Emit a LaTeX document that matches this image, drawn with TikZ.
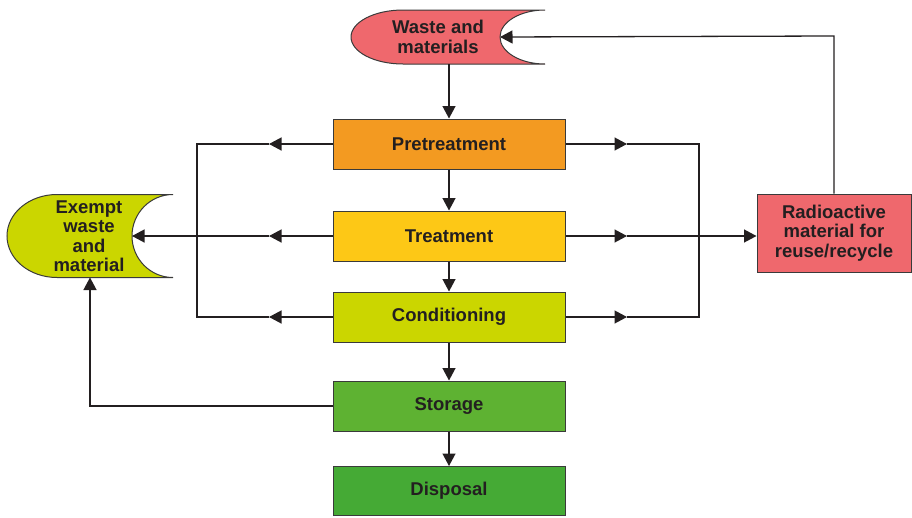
\documentclass[tikz,border=0pt]{standalone}
\usepackage{fontspec}
\setmainfont{Liberation Sans}
\usetikzlibrary{arrows.meta}
\definecolor{ink}{HTML}{231F20}
\definecolor{edge}{HTML}{3A3A3A}
\definecolor{salmon}{HTML}{EF686D}
\definecolor{orangeb}{HTML}{F39A21}
\definecolor{yellowb}{HTML}{FDC816}
\definecolor{limeb}{HTML}{CBD600}
\definecolor{storeb}{HTML}{5EB232}
\definecolor{dispb}{HTML}{45AA35}
\tikzset{
  lbl/.style={font=\bfseries\fontsize{18.5}{19.5}\selectfont, text=ink, align=center},
  stepbox/.style={lbl, draw=edge, line width=1pt, minimum width=232pt, minimum height=50pt, inner sep=0pt},
  shapeline/.style={draw=edge, line width=1pt},
  conn/.style={draw=ink, line width=1.3pt},
  arr/.style={conn, -{Triangle[length=12.5pt,width=13pt]}},
}
\begin{document}
\begin{tikzpicture}[x=1pt,y=1pt]
\useasboundingbox (0,0) rectangle (912,-517);
% waste and materials shape
\path[shapeline, fill=salmon] (545,-10) arc[start angle=90, end angle=270, x radius=45, y radius=27]
  -- (403,-64) arc[start angle=270, end angle=90, x radius=52, y radius=27] -- cycle;
\node[lbl] (waste) at (438,-37) {Waste and\\materials};
\coordinate (wasteIn) at (500,-37);
\coordinate (wasteBot) at (449,-64);
% exempt shape
\path[shapeline, fill=limeb] (173,-194.5) arc[start angle=90, end angle=270, x radius=41, y radius=41.5]
  -- (57,-277.5) arc[start angle=270, end angle=90, x radius=50, y radius=41.5] -- cycle;
\node[lbl] (exempt) at (89,-236) {Exempt\\waste\\and\\material};
\coordinate (exemptIn) at (132,-236);
\coordinate (exemptBot) at (90,-277.5);
% main boxes
\node[stepbox, fill=orangeb] (pre) at (449,-144) {Pretreatment};
\node[stepbox, fill=yellowb] (treat) at (449,-236) {Treatment};
\node[stepbox, fill=limeb] (cond) at (449,-317) {Conditioning};
\node[stepbox, fill=storeb] (stor) at (449,-406) {Storage};
\node[stepbox, fill=dispb, minimum height=49pt] (disp) at (449,-491) {Disposal};
\node[lbl, draw=edge, line width=1pt, fill=salmon, minimum width=154pt, minimum height=78pt, inner sep=0pt] (rad) at (834,-233) {Radioactive\\material for\\reuse/recycle};
% vertical flow
\draw[arr] (wasteBot) -- (pre.north);
\draw[arr] (pre.south) -- (treat.north);
\draw[arr] (treat.south) -- (cond.north);
\draw[arr] (cond.south) -- (stor.north);
\draw[arr] (stor.south) -- (disp.north);
% left branches
\coordinate (lp) at (269,-144);
\coordinate (lt) at (269,-236);
\coordinate (lc) at (269,-317);
\coordinate (lTop) at (197,-144);
\coordinate (lBot) at (197,-317);
\draw[arr] (pre.west) -- (lp);
\draw[arr] (treat.west) -- (lt);
\draw[arr] (cond.west) -- (lc);
\draw[conn] (lp) -- (lTop) -- (lBot) -- (lc);
\draw[arr] (lt) -- (exemptIn);
% right branches
\coordinate (rp) at (627,-144);
\coordinate (rt) at (627,-236);
\coordinate (rc) at (627,-317);
\coordinate (rTop) at (699,-144);
\coordinate (rBot) at (699,-317);
\draw[arr] (pre.east) -- (rp);
\draw[arr] (treat.east) -- (rt);
\draw[arr] (cond.east) -- (rc);
\draw[conn] (rp) -- (rTop) -- (rBot) -- (rc);
\draw[arr] (rt) -- (rad.west |- rt);
% feedback loops
\coordinate (radUp) at (834,-36);
\draw[arr] (rad.north) -- (radUp) -- (wasteIn);
\coordinate (storL) at (90,-406);
\draw[arr] (stor.west) -- (storL) -- (exemptBot);
\end{tikzpicture}
\end{document}
